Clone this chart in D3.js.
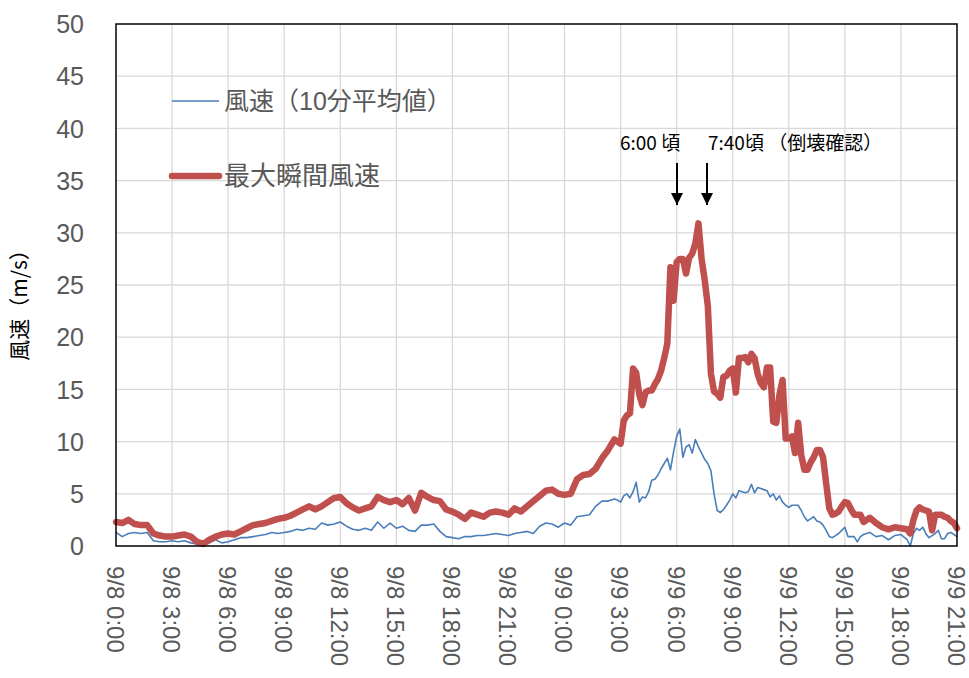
<!DOCTYPE html>
<html>
<head>
<meta charset="utf-8">
<script src="https://cdn.jsdelivr.net/npm/d3@7"></script>
<style>
  html, body { margin: 0; padding: 0; background: #ffffff; }
  svg { display: block; }
</style>
</head>
<body>
<svg id="chart" width="969" height="678"></svg>
<script>
// Time of each sample, in minutes after 9/8 0:00
const times = [
  0,20,40,60,80,100,120,140,160,180,200,220,240,260,280,300,320,340,360,380,
  400,420,440,460,480,500,520,540,560,580,600,620,640,660,680,700,720,740,760,780,
  800,820,840,860,880,900,920,940,960,980,1000,1020,1040,1060,1080,1100,1120,1140,1160,1180,
  1200,1220,1240,1260,1280,1300,1320,1340,1360,1380,1400,1420,1440,1460,1480,1500,1520,1540,1560,1580,
  1600,
  1610,1620,1630,1640,1650,1660,1670,1680,1690,1700,
  1710,1720,1730,1740,1750,1760,1770,1780,1790,1800,
  1810,1820,1830,1840,1850,1860,1870,1880,1890,1900,
  1910,1920,1930,1940,1950,1960,1970,1980,1990,2000,
  2010,2020,2030,2040,2050,2060,2070,2080,2090,2100,
  2110,2120,2130,2140,2150,2160,2170,2180,2190,2200,
  2210,2220,2230,2240,2250,2260,2270,2280,2290,2300,
  2310,2320,2330,2340,2350,2360,2370,2380,2390,2400,
  2420,2440,2460,2480,2500,2520,2540,
  2550,2560,2570,2580,2590,2600,2610,2620,2630,2640,2650,2660,2670,2680,2690,2700
];

// 風速（10分平均値） m/s
const meanSpeed = [
  1.3,0.9,1.2,1.3,1.2,1.3,0.5,0.4,0.4,0.5,
  0.4,0.5,0.3,0.2,0.1,0.3,0.6,0.3,0.4,0.6,
  0.8,0.8,0.9,1.0,1.1,1.3,1.2,1.3,1.4,1.6,
  1.5,1.7,1.6,2.2,2.0,2.1,2.3,1.9,1.6,1.5,
  1.7,1.5,2.3,1.7,2.2,1.7,1.9,1.5,1.4,2.0,
  2.0,2.1,1.4,0.9,0.8,0.7,0.9,0.9,1.0,1.0,
  1.1,1.2,1.1,1.0,1.2,1.3,1.4,1.2,1.9,2.2,
  2.1,1.8,2.2,2.0,2.8,2.9,3.0,3.8,4.3,4.3,
  4.5,
  4.4,4.2,4.8,5.0,4.6,5.2,6.1,4.2,4.7,4.6,
  5.2,6.3,6.4,6.8,7.4,7.9,8.4,7.3,9.0,10.5,
  11.2,8.5,9.5,9.7,8.9,10.2,9.5,8.9,8.3,7.9,
  7.2,5.0,3.4,3.2,3.5,3.9,4.4,5.0,4.6,5.3,
  5.2,5.1,5.2,5.9,5.1,5.6,5.5,5.4,5.3,4.7,
  5.0,4.4,4.8,4.2,3.9,3.7,3.9,3.9,3.9,3.4,
  2.8,2.4,2.6,2.8,2.4,2.3,2.0,1.5,0.9,0.8,
  1.0,1.2,1.5,1.8,0.9,0.9,0.9,0.4,0.9,1.1,
  1.3,0.9,1.0,0.6,1.0,1.1,0.6,
  0.0,1.2,1.7,1.5,1.8,1.2,0.8,1.0,1.2,1.5,0.7,0.7,1.2,1.3,1.1,0.9
];

// 最大瞬間風速 m/s
const gustSpeed = [
  2.3,2.2,2.5,2.1,2.0,2.0,1.2,1.0,0.9,0.9,
  1.0,1.1,0.9,0.4,0.2,0.6,0.9,1.1,1.2,1.1,
  1.4,1.7,2.0,2.1,2.2,2.4,2.6,2.7,2.9,3.2,
  3.5,3.8,3.5,3.8,4.2,4.6,4.7,4.1,3.7,3.4,
  3.6,3.8,4.7,4.4,4.2,4.4,4.0,4.6,3.4,5.1,
  4.7,4.4,4.3,3.5,3.3,3.0,2.6,3.2,3.0,2.8,
  3.2,3.3,3.2,3.0,3.6,3.3,3.8,4.3,4.8,5.3,
  5.4,5.0,4.9,5.0,6.4,6.8,6.9,7.4,8.4,9.2,
  10.2,
  10.0,9.8,12.0,12.5,12.7,17.0,16.6,14.5,13.5,14.7,
  14.9,14.9,15.5,16.0,16.8,18.0,19.4,26.7,23.5,27.2,
  27.5,27.5,26.1,27.6,28.0,29.0,30.9,27.5,25.5,23.0,
  16.5,14.8,14.6,14.2,16.2,16.3,16.8,17.0,14.7,18.0,
  18.0,18.1,17.6,18.4,18.0,16.5,15.6,15.2,17.1,17.1,
  11.9,11.8,14.5,15.9,10.3,10.3,10.5,8.9,11.8,8.7,
  7.3,7.3,8.0,8.5,9.2,9.2,8.5,6.0,3.6,3.0,
  3.1,3.3,3.8,4.2,4.1,3.5,3.0,3.0,3.0,2.3,
  2.7,2.2,1.8,1.6,1.8,1.7,1.6,
  1.2,2.5,3.4,3.7,3.5,3.4,3.3,1.5,3.0,3.0,3.0,2.8,2.7,2.4,2.2,1.7
];

// Axis ticks
const xTickMinutes = [0,180,360,540,720,900,1080,1260,1440,1620,1800,1980,2160,2340,2520,2700];
const xTickLabels = ["9/8 0:00","9/8 3:00","9/8 6:00","9/8 9:00","9/8 12:00","9/8 15:00","9/8 18:00","9/8 21:00",
                     "9/9 0:00","9/9 3:00","9/9 6:00","9/9 9:00","9/9 12:00","9/9 15:00","9/9 18:00","9/9 21:00"];
const yTicks = [0,5,10,15,20,25,30,35,40,45,50];

const seriesNames = ["風速（10分平均値）", "最大瞬間風速"];
const yTitle = "風速（m/s）";
const annotations = [
  {text: "6:00 頃", minute: 1800},
  {text: "7:40頃 （倒壊確認）", minute: 1900}
];

// ---- drawing ----
const svg = d3.select("#chart");
const L = 116, R = 957, T = 24, B = 546;
const x = d3.scaleLinear().domain([0, 2700]).range([L, R]);
const y = d3.scaleLinear().domain([0, 50]).range([B, T]);

const gridColor = "#d9d9d9";
const textGray = "#595959";
const blue = "#4a7ebb";
const red = "#c0504d";
const latin = "'Liberation Sans', Arial, sans-serif";
const cjk = "'Liberation Sans', 'Noto Sans CJK JP', sans-serif";
const cjkFirst = "'Noto Sans CJK JP', sans-serif";

// grid
svg.append("g").selectAll("line.h").data(yTicks.filter(d => d > 0 && d < 50)).join("line")
  .attr("x1", L).attr("x2", R).attr("y1", d => y(d)).attr("y2", d => y(d))
  .attr("stroke", gridColor).attr("stroke-width", 1.3);
svg.append("g").selectAll("line.v").data(xTickMinutes.filter(d => d > 0 && d < 2700)).join("line")
  .attr("y1", T).attr("y2", B).attr("x1", d => x(d)).attr("x2", d => x(d))
  .attr("stroke", gridColor).attr("stroke-width", 1.3);

// y axis labels
const yAxis = d3.axisLeft(y).tickValues(yTicks).tickSize(0).tickPadding(0);
const gy = svg.append("g").attr("transform", `translate(${L - 32},0)`).call(yAxis);
gy.select(".domain").remove();
gy.selectAll("text").attr("font-family", latin).attr("font-size", 25).attr("fill", textGray)
  .attr("text-anchor", "end").attr("dy", "0.35em");

// x axis labels (rotated)
const xAxis = d3.axisBottom(x).tickValues(xTickMinutes).tickSize(0)
  .tickFormat((d, i) => xTickLabels[i]);
const gx = svg.append("g").attr("transform", `translate(0,${B})`).call(xAxis);
gx.select(".domain").remove();
gx.selectAll("text")
  .attr("font-family", latin).attr("font-size", 24).attr("fill", textGray)
  .attr("text-anchor", "start")
  .attr("transform", "translate(-1,20) rotate(90)")
  .attr("x", 0).attr("y", 0).attr("dy", "0.36em");

// lines
const pts = (vals) => times.map((t, i) => [t, vals[i]]);
const line = d3.line().x(d => x(d[0])).y(d => y(d[1]));
svg.append("path").datum(pts(meanSpeed)).attr("d", line)
  .attr("fill", "none").attr("stroke", blue).attr("stroke-width", 1.6).attr("stroke-linejoin", "round");
svg.append("path").datum(pts(gustSpeed)).attr("d", line)
  .attr("fill", "none").attr("stroke", red).attr("stroke-width", 6.5)
  .attr("stroke-linejoin", "round").attr("stroke-linecap", "round");

// frame
svg.append("rect").attr("x", L).attr("y", T).attr("width", R - L).attr("height", B - T)
  .attr("fill", "none").attr("stroke", "#000").attr("stroke-width", 1.5);

// y title
svg.append("text").attr("transform", `translate(20,300) rotate(-90)`)
  .attr("text-anchor", "middle").attr("dy", "0.35em")
  .attr("font-family", cjkFirst).attr("font-size", 21).attr("fill", "#000").text(yTitle);

// legend
const legend = svg.append("g");
legend.append("line").attr("x1", 172).attr("x2", 219).attr("y1", 101).attr("y2", 101)
  .attr("stroke", blue).attr("stroke-width", 1.6);
legend.append("text").attr("x", 224).attr("y", 101).attr("dy", "0.35em")
  .attr("font-family", cjk).attr("font-size", 25).attr("fill", textGray).text(seriesNames[0]);
legend.append("line").attr("x1", 172).attr("x2", 219).attr("y1", 176).attr("y2", 176)
  .attr("stroke", red).attr("stroke-width", 6.5).attr("stroke-linecap", "round");
legend.append("text").attr("x", 224).attr("y", 176).attr("dy", "0.35em")
  .attr("font-family", cjk).attr("font-size", 26).attr("fill", textGray).text(seriesNames[1]);

// annotations
svg.append("defs").append("marker").attr("id", "arr")
  .attr("viewBox", "0 0 10 10").attr("refX", 10).attr("refY", 5)
  .attr("markerWidth", 6).attr("markerHeight", 6).attr("markerUnits", "strokeWidth")
  .attr("orient", "auto")
  .append("path").attr("d", "M0,0 L10,5 L0,10 Z").attr("fill", "#000");

svg.append("text").attr("x", 620).attr("y", 143).attr("dy", "0.35em")
  .attr("font-family", cjkFirst).attr("font-size", 19).attr("fill", "#000").text(annotations[0].text);
svg.append("text").attr("x", 708).attr("y", 143).attr("dy", "0.35em")
  .attr("font-family", cjkFirst).attr("font-size", 19).attr("fill", "#000").text(annotations[1].text);

const arrowXs = [677, 707];
arrowXs.forEach(ax => {
  svg.append("line").attr("x1", ax).attr("x2", ax).attr("y1", 163).attr("y2", 205)
    .attr("stroke", "#000").attr("stroke-width", 2).attr("marker-end", "url(#arr)");
});
</script>
</body>
</html>
